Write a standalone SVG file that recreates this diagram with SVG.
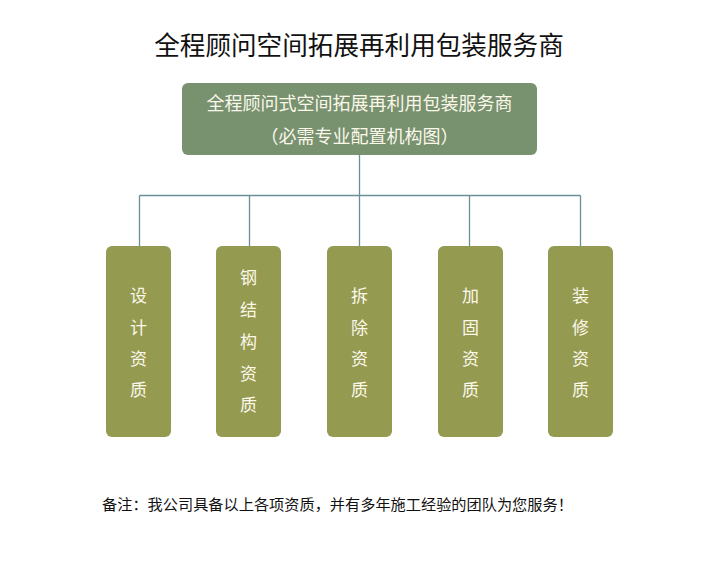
<svg xmlns="http://www.w3.org/2000/svg" width="725" height="564" viewBox="0 0 725 564">
<style>
.leaf rect{fill:#959a51;}
.leaf text{fill:#fbf8ea;font-family:"Noto Sans CJK SC","Liberation Sans",sans-serif;font-size:17px;text-anchor:middle;}
.conn path{stroke:#6a8f96;stroke-width:1.3;fill:none;}
</style>
<rect width="725" height="564" fill="#ffffff"/>
<text x="359" y="55" font-family="Noto Sans CJK SC, Liberation Sans, sans-serif" font-size="25.6" text-anchor="middle" fill="#111">全程顾问空间拓展再利用包装服务商</text>
<g class="conn">
<path d="M359.5 155V195.5M139.5 195.5H580.5M139.5 195.5V246M249.5 195.5V246M359.5 195.5V246M469.5 195.5V246M580.5 195.5V246"/>
</g>
<g id="root">
<rect x="182" y="83" width="355" height="72" rx="6" fill="#78916f"/>
<text x="359.5" y="110" font-family="Noto Sans CJK SC, Liberation Sans, sans-serif" font-size="18" text-anchor="middle" fill="#fbf8ea">全程顾问式空间拓展再利用包装服务商</text>
<text x="359.5" y="143" font-family="Noto Sans CJK SC, Liberation Sans, sans-serif" font-size="18" text-anchor="middle" fill="#fbf8ea">（必需专业配置机构图）</text>
</g>
<g id="n1" class="leaf">
<rect x="106" y="246" width="65" height="191" rx="6"/>
<text x="138.5" y="302">设</text><text x="138.5" y="334">计</text><text x="138.5" y="365">资</text><text x="138.5" y="396">质</text>
</g>
<g id="n2" class="leaf">
<rect x="216" y="246" width="65" height="191" rx="6"/>
<text x="248.5" y="284">钢</text><text x="248.5" y="316">结</text><text x="248.5" y="348">构</text><text x="248.5" y="380">资</text><text x="248.5" y="411">质</text>
</g>
<g id="n3" class="leaf">
<rect x="327" y="246" width="65" height="191" rx="6"/>
<text x="359.5" y="302">拆</text><text x="359.5" y="334">除</text><text x="359.5" y="365">资</text><text x="359.5" y="396">质</text>
</g>
<g id="n4" class="leaf">
<rect x="438" y="246" width="65" height="191" rx="6"/>
<text x="470.5" y="302">加</text><text x="470.5" y="334">固</text><text x="470.5" y="365">资</text><text x="470.5" y="396">质</text>
</g>
<g id="n5" class="leaf">
<rect x="548" y="246" width="65" height="191" rx="6"/>
<text x="580.5" y="302">装</text><text x="580.5" y="334">修</text><text x="580.5" y="365">资</text><text x="580.5" y="396">质</text>
</g>
<text x="102" y="510" font-family="Noto Sans CJK SC, Liberation Sans, sans-serif" font-size="15.2" fill="#111">备注：我公司具备以上各项资质，并有多年施工经验的团队为您服务！</text>
</svg>
